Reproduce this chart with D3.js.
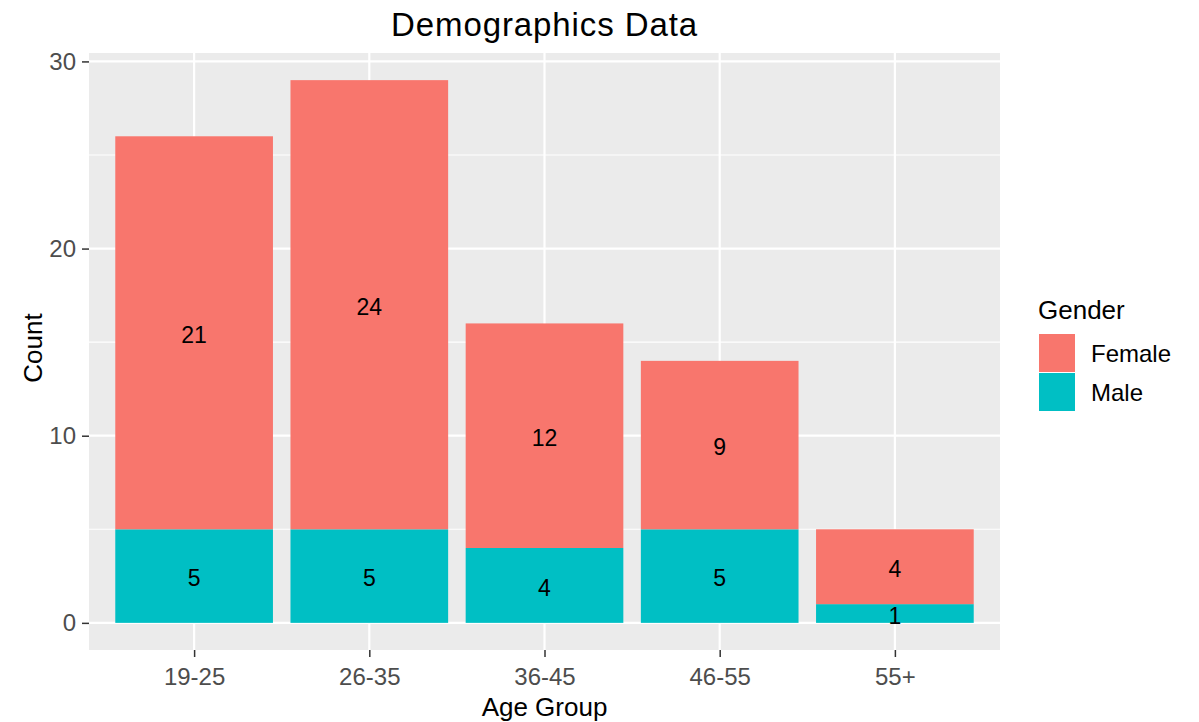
<!DOCTYPE html>
<html>
<head>
<meta charset="utf-8">
<script src="https://cdn.jsdelivr.net/npm/d3@7"></script>
<style>
  html, body { margin: 0; padding: 0; background: #fff; }
  text { font-family: "Liberation Sans", Arial, sans-serif; }
</style>
</head>
<body>
<svg id="chart" width="1199" height="722"></svg>
<script>
const categories = ["19-25", "26-35", "36-45", "46-55", "55+"];
const maleValues = [5, 5, 4, 5, 1];
const femaleValues = [21, 24, 12, 9, 4];
const genders = ["Female", "Male"];
const yTicks = [0, 10, 20, 30];
const yMinorTicks = [5, 15, 25];

const colors = { Female: "#F8766D", Male: "#00BFC4" };

const svg = d3.select("#chart");
const panel = { left: 89, right: 1000, top: 53, bottom: 650 };

const data = categories.map((c, i) => ({ cat: c, Male: maleValues[i], Female: femaleValues[i] }));
const stack = d3.stack().keys(["Male", "Female"])(data);

const x = d3.scaleLinear().domain([0.4, categories.length + 0.6]).range([panel.left, panel.right]);
const totalMax = d3.max(data, d => d.Male + d.Female);
const y = d3.scaleLinear().domain([-totalMax * 0.05, totalMax * 1.05]).range([panel.bottom, panel.top]);

// panel background
svg.append("rect").attr("x", panel.left).attr("y", panel.top)
  .attr("width", panel.right - panel.left).attr("height", panel.bottom - panel.top)
  .attr("fill", "#EBEBEB");

// minor grid
svg.append("g").selectAll("line").data(yMinorTicks).join("line")
  .attr("x1", panel.left).attr("x2", panel.right)
  .attr("y1", d => y(d)).attr("y2", d => y(d))
  .attr("stroke", "#fff").attr("stroke-width", 1.1);
// major grid
svg.append("g").selectAll("line").data(yTicks).join("line")
  .attr("x1", panel.left).attr("x2", panel.right)
  .attr("y1", d => y(d)).attr("y2", d => y(d))
  .attr("stroke", "#fff").attr("stroke-width", 2.2);
svg.append("g").selectAll("line").data(categories).join("line")
  .attr("x1", (d, i) => x(i + 1)).attr("x2", (d, i) => x(i + 1))
  .attr("y1", panel.top).attr("y2", panel.bottom)
  .attr("stroke", "#fff").attr("stroke-width", 2.2);

// bars
const bw = 0.9;
stack.forEach(layer => {
  const key = layer.key;
  svg.append("g").selectAll("rect").data(layer).join("rect")
    .attr("x", (d, i) => x(i + 1 - bw / 2))
    .attr("width", (d, i) => x(i + 1 + bw / 2) - x(i + 1 - bw / 2))
    .attr("y", d => y(d[1]))
    .attr("height", d => y(d[0]) - y(d[1]))
    .attr("fill", colors[key]);
  svg.append("g").selectAll("text").data(layer).join("text")
    .attr("x", (d, i) => x(i + 1))
    .attr("y", d => y((d[0] + d[1]) / 2))
    .attr("dy", "0.44em")
    .attr("text-anchor", "middle")
    .attr("font-size", 23)
    .attr("fill", "#000")
    .text(d => d.data[key]);
});

// y axis
const yAxis = d3.axisLeft(y).tickValues(yTicks).tickSize(7).tickPadding(6);
const gy = svg.append("g").attr("transform", `translate(${panel.left},0)`).call(yAxis);
gy.select(".domain").remove();
gy.selectAll(".tick line").attr("stroke", "#333").attr("stroke-width", 1.5);
gy.selectAll(".tick text").attr("font-size", 24).attr("fill", "#4D4D4D")
  .attr("font-family", "Liberation Sans, Arial, sans-serif");

// x axis
const xAxis = d3.axisBottom(x).tickValues(d3.range(1, categories.length + 1))
  .tickFormat(i => categories[i - 1]).tickSize(7).tickPadding(11);
const gx = svg.append("g").attr("transform", `translate(0,${panel.bottom})`).call(xAxis);
gx.select(".domain").remove();
gx.selectAll(".tick line").attr("stroke", "#333").attr("stroke-width", 1.5);
gx.selectAll(".tick text").attr("font-size", 24).attr("fill", "#4D4D4D")
  .attr("font-family", "Liberation Sans, Arial, sans-serif");

// titles
svg.append("text").attr("x", (panel.left + panel.right) / 2).attr("y", 36)
  .attr("text-anchor", "middle").attr("font-size", 33).attr("letter-spacing", 0.9).attr("fill", "#000")
  .text("Demographics Data");
svg.append("text").attr("x", (panel.left + panel.right) / 2).attr("y", 716)
  .attr("text-anchor", "middle").attr("font-size", 26).attr("fill", "#000")
  .text("Age Group");
svg.append("text").attr("transform", `translate(42,348) rotate(-90)`)
  .attr("text-anchor", "middle").attr("font-size", 26).attr("fill", "#000")
  .text("Count");

// legend
const lg = svg.append("g");
lg.append("text").attr("x", 1038).attr("y", 319).attr("font-size", 26).attr("fill", "#000").text("Gender");
genders.forEach((g, i) => {
  lg.append("rect").attr("x", 1039).attr("y", 334 + i * 39).attr("width", 36).attr("height", 38)
    .attr("fill", colors[g]);
  lg.append("text").attr("x", 1091).attr("y", 362 + i * 39)
    .attr("font-size", 24).attr("fill", "#000").text(g);
});
</script>
</body>
</html>
